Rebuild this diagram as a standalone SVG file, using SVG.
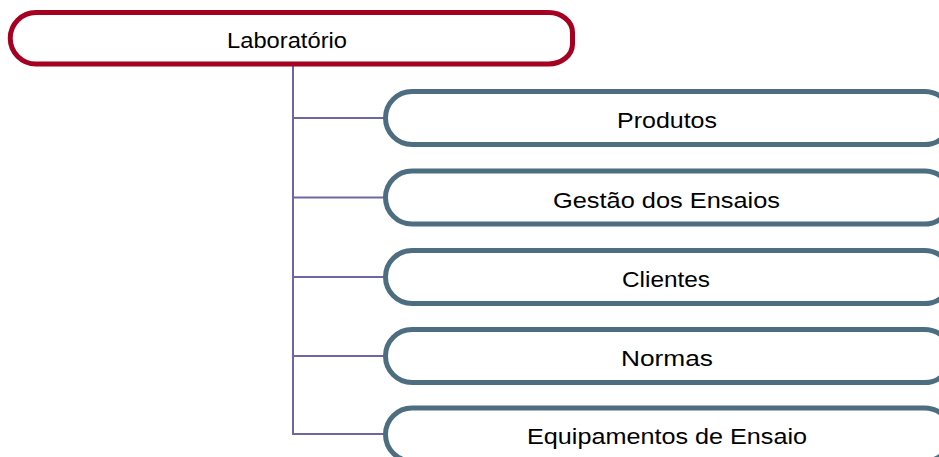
<svg xmlns="http://www.w3.org/2000/svg" width="939" height="457" viewBox="0 0 939 457">
<style>
.root{fill:#fff;stroke:#A50021;stroke-width:5}
.child{fill:#fff;stroke:#4D6E80;stroke-width:5}
.lbl{font-family:"Liberation Sans",Arial,sans-serif;font-size:22.5px;fill:#000;text-anchor:middle}
.conn{fill:none;stroke:#6E66A3;stroke-width:2}
</style>
<rect width="939" height="457" fill="#fff"/>
<g id="connectors">
<path class="conn" d="M293 65 V434 H386"/>
<path class="conn" d="M293 118 H386 M293 197.5 H386 M293 277 H386 M293 356 H386"/>
</g>
<g id="n-laboratorio">
<path class="root" d="M36 12.5 H548 A24 20 0 0 1 572.5 32.5 V44 A24 20 0 0 1 548 64 H36 A25.75 25.75 0 0 1 36 12.5 Z"/>
<text class="lbl" x="287" y="48" textLength="120" lengthAdjust="spacingAndGlyphs">Laboratório</text>
</g>
<g id="n-produtos">
<path class="child" d="M412 91.5 H924 A24 20 0 0 1 948.5 111.5 V124.5 A24 20 0 0 1 924 144.5 H412 A26.5 26.5 0 0 1 412 91.5 Z"/>
<text class="lbl" x="667" y="128" textLength="100" lengthAdjust="spacingAndGlyphs">Produtos</text>
</g>
<g id="n-gestao">
<path class="child" d="M412 171 H924 A24 20 0 0 1 948.5 191 V204 A24 20 0 0 1 924 224 H412 A26.5 26.5 0 0 1 412 171 Z"/>
<text class="lbl" x="666.5" y="207.5" textLength="227" lengthAdjust="spacingAndGlyphs">Gestão dos Ensaios</text>
</g>
<g id="n-clientes">
<path class="child" d="M412 250.5 H924 A24 20 0 0 1 948.5 270.5 V283.5 A24 20 0 0 1 924 303.5 H412 A26.5 26.5 0 0 1 412 250.5 Z"/>
<text class="lbl" x="666" y="287" textLength="88" lengthAdjust="spacingAndGlyphs">Clientes</text>
</g>
<g id="n-normas">
<path class="child" d="M412 329.5 H924 A24 20 0 0 1 948.5 349.5 V362.5 A24 20 0 0 1 924 382.5 H412 A26.5 26.5 0 0 1 412 329.5 Z"/>
<text class="lbl" x="667" y="366" textLength="92" lengthAdjust="spacingAndGlyphs">Normas</text>
</g>
<g id="n-equipamentos">
<path class="child" d="M412 408 H924 A24 20 0 0 1 948.5 428 V441 A24 20 0 0 1 924 461 H412 A26.5 26.5 0 0 1 412 408 Z"/>
<text class="lbl" x="667" y="443.5" textLength="280" lengthAdjust="spacingAndGlyphs">Equipamentos de Ensaio</text>
</g>
</svg>
